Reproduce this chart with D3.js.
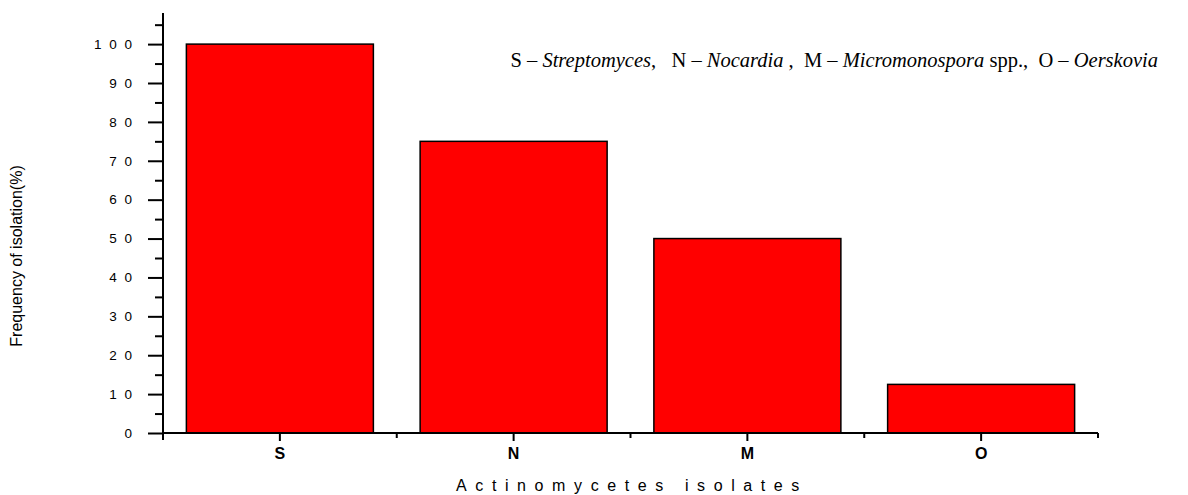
<!DOCTYPE html>
<html>
<head>
<meta charset="utf-8">
<script src="https://cdn.jsdelivr.net/npm/d3@7"></script>
<style>
  body { margin: 0; background: #fff; }
  .tick text { font-family: Arial, "Liberation Sans", sans-serif; }
</style>
</head>
<body>
<svg id="chart" width="1188" height="495"></svg>
<script>
var categories = ["S", "N", "M", "O"];
var frequency = [100, 75, 50, 12.5];
var yTicks = [0, 10, 20, 30, 40, 50, 60, 70, 80, 90, 100];
var yMinorTicks = [5, 15, 25, 35, 45, 55, 65, 75, 85, 95, 105];

var svg = d3.select("#chart");
var plotLeft = 163, plotRight = 1098, plotTop = 13, plotBottom = 433;

var xScale = d3.scaleBand()
	.domain(categories)
	.range([plotLeft, plotRight])
	.paddingInner(0.2)
	.paddingOuter(0.1);
// band without padding, for the tick positions
var xCat = d3.scaleBand().domain(categories).range([plotLeft, plotRight]);

var yScale = d3.scaleLinear()
	.domain([0, 108])
	.range([plotBottom, plotTop]);

// bars
svg.append("g").selectAll("rect").data(frequency)
	.enter().append("rect")
	.attr("x", function(d, i){ return xScale(categories[i]); })
	.attr("y", function(d){ return yScale(d); })
	.attr("width", xScale.bandwidth())
	.attr("height", function(d){ return yScale(0) - yScale(d); })
	.style("fill", "#ff0000")
	.style("stroke", "#000")
	.style("stroke-width", 1.5);

// y axis
var yAxis = d3.axisLeft(yScale)
	.tickValues(yTicks)
	.tickSize(15)
	.tickPadding(14)
	.tickFormat(function(d){ return String(d).split("").join(" "); });
var yg = svg.append("g")
	.attr("transform", "translate(" + plotLeft + ",0)")
	.call(yAxis);
yg.select(".domain").remove();
yg.selectAll(".tick line").style("stroke", "#000").style("stroke-width", 2);
yg.selectAll(".tick text")
	.style("font-size", "13.5px")
	.style("letter-spacing", "2px")
	.style("fill", "#000");

var ym = svg.append("g")
	.attr("transform", "translate(" + plotLeft + ",0)")
	.call(d3.axisLeft(yScale).tickValues(yMinorTicks).tickSize(8).tickFormat(""));
ym.select(".domain").remove();
ym.selectAll(".tick line").style("stroke", "#000").style("stroke-width", 2);

svg.append("line")
	.attr("x1", plotLeft).attr("x2", plotLeft)
	.attr("y1", yScale(108)).attr("y2", yScale(0) + 7)
	.style("stroke", "#000").style("stroke-width", 2);

// x axis
var xAxis = d3.axisBottom(xCat).tickSize(8).tickPadding(7);
var xg = svg.append("g")
	.attr("transform", "translate(0," + plotBottom + ")")
	.call(xAxis);
xg.select(".domain").remove();
xg.selectAll(".tick line").style("stroke", "#000").style("stroke-width", 2);
xg.selectAll(".tick text")
	.style("font-size", "16px")
	.style("font-weight", "bold")
	.style("fill", "#000");

// minor ticks at category boundaries
svg.append("g").selectAll("line").data(categories)
	.enter().append("line")
	.attr("x1", function(d){ return xCat(d) + xCat.bandwidth(); })
	.attr("x2", function(d){ return xCat(d) + xCat.bandwidth(); })
	.attr("y1", plotBottom)
	.attr("y2", plotBottom + 5)
	.style("stroke", "#000").style("stroke-width", 2);

svg.append("line")
	.attr("x1", plotLeft).attr("x2", plotRight)
	.attr("y1", plotBottom).attr("y2", plotBottom)
	.style("stroke", "#000").style("stroke-width", 2);

// axis titles
svg.append("text")
	.attr("x", 632)
	.attr("y", 491)
	.attr("text-anchor", "middle")
	.style("font-family", "Arial, 'Liberation Sans', sans-serif")
	.style("font-size", "16px")
	.style("letter-spacing", "8.6px")
	.text("Actinomycetes isolates");

svg.append("text")
	.attr("transform", "translate(22,256) rotate(-90)")
	.attr("text-anchor", "middle")
	.style("font-family", "Arial, 'Liberation Sans', sans-serif")
	.style("font-size", "16px")
	.text("Frequency of isolation(%)");

// key text
var key = svg.append("text")
	.attr("x", 1158)
	.attr("y", 67)
	.attr("text-anchor", "end")
	.style("font-family", "'Liberation Serif', 'Times New Roman', serif")
	.style("font-size", "20.5px");
var parts = [
	["S – ", false], ["Streptomyces", true], [",   N – ", false], ["Nocardia", true],
	[" ,  M – ", false], ["Micromonospora", true], [" spp.,  O – ", false], ["Oerskovia", true]
];
parts.forEach(function(p){
	key.append("tspan")
		.style("font-style", p[1] ? "italic" : "normal")
		.style("white-space", "pre")
		.text(p[0]);
});
</script>
</body>
</html>
